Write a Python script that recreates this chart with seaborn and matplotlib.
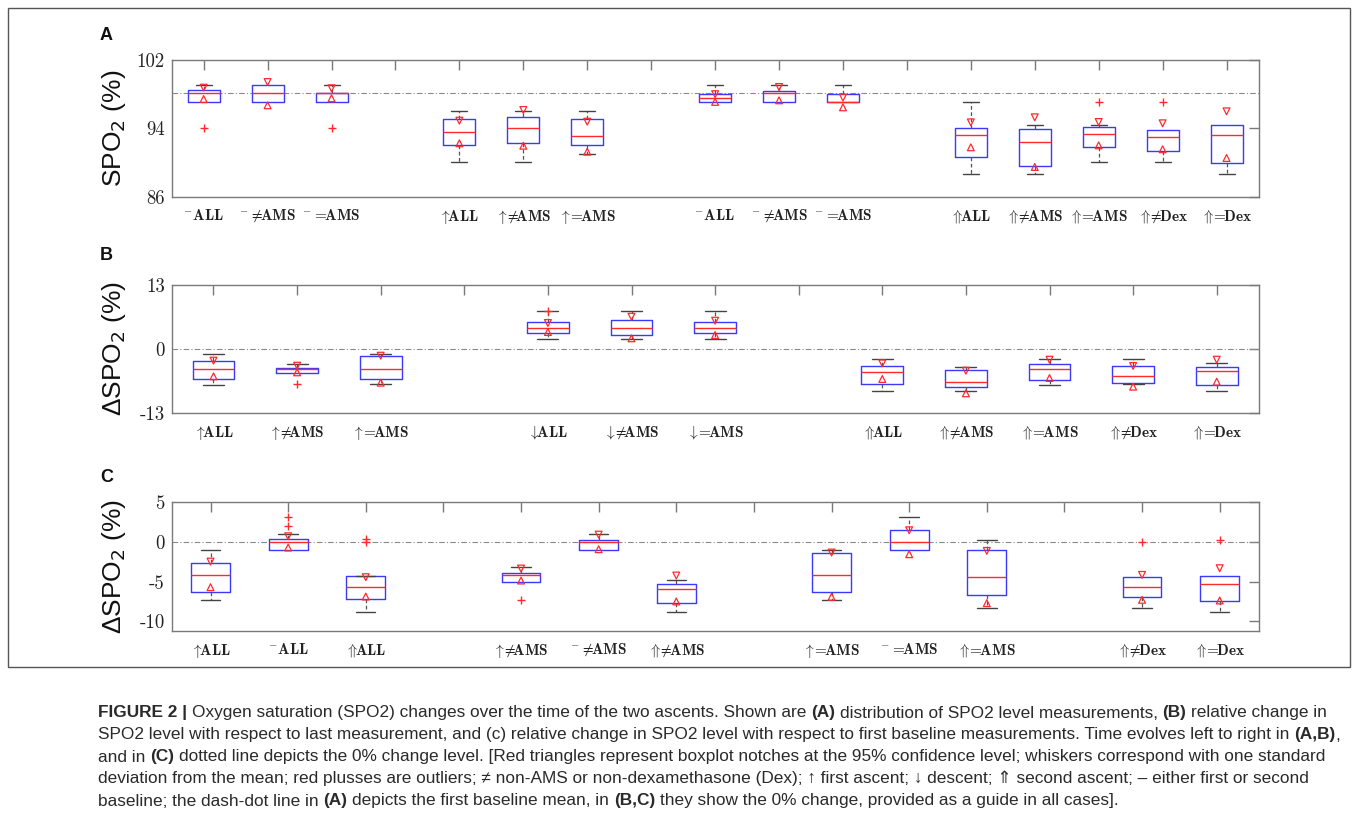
import matplotlib
matplotlib.use("Agg")
import matplotlib.pyplot as plt
import seaborn as sns
import pandas as pd
from matplotlib.patches import Rectangle

sns.set_style("white")
plt.rcParams["mathtext.fontset"] = "cm"
plt.rcParams["font.family"] = ["Liberation Sans", "DejaVu Sans"]

# ---------------- data: panel A (SPO2 %) ----------------
A_labels = ["—ALL", "—≠AMS", "—=AMS", "", "↑ALL", "↑≠AMS", "↑=AMS", "",
            "—ALL", "—≠AMS", "—=AMS", "", "⇑ALL", "⇑≠AMS", "⇑=AMS", "⇑≠Dex", "⇑=Dex"]
A_pos = [1, 2, 3, 5, 6, 7, 9, 10, 11, 13, 14, 15, 16, 17]
A_whishi = [99.04, 99.04, 99.04, 96.07, 96.07, 96.07, 99.04, 99.04, 99.04, 97.08, 94.35, 94.35, 93.77, 94.35]
A_q3 = [98.53, 99.04, 98.10, 95.06, 95.29, 95.06, 98.06, 98.33, 98.06, 94.08, 93.89, 94.20, 93.77, 94.35]
A_med = [98.10, 98.10, 98.10, 93.57, 94.00, 93.07, 97.55, 98.14, 97.06, 93.18, 92.37, 93.34, 93.03, 93.18]
A_q1 = [97.08, 97.08, 97.08, 92.05, 92.25, 92.05, 97.08, 97.08, 97.04, 90.69, 89.63, 91.78, 91.39, 89.98]
A_whislo = [97.08, 97.08, 97.08, 90.02, 90.02, 91.04, 97.08, 97.08, 97.04, 88.66, 88.66, 90.02, 90.02, 88.66]
A_notch_hi = [98.76, 99.42, 98.69, 94.90, 96.15, 94.78, 98.00, 98.84, 97.60, 94.70, 95.29, 94.74, 94.59, 95.99]
A_notch_lo = [97.43, 96.70, 97.52, 92.25, 91.97, 91.27, 97.10, 97.28, 96.46, 91.78, 89.48, 92.01, 91.55, 90.53]
A_outliers = [[94.0], [], [94.0], [], [], [], [], [], [], [], [], [97.04], [97.04], []]
A_ref = 98.1
A_yticks = [86, 94, 102]

# ---------------- data: panel B (delta SPO2 vs last) ----------------
B_labels = ["↑ALL", "↑≠AMS", "↑=AMS", "", "↓ALL", "↓≠AMS", "↓=AMS", "",
            "⇑ALL", "⇑≠AMS", "⇑=AMS", "⇑≠Dex", "⇑=Dex"]
B_pos = [1, 2, 3, 5, 6, 7, 9, 10, 11, 12, 13]
B_whishi = [-1.08, -3.05, -1.08, 7.65, 7.79, 7.65, -2.03, -3.72, -1.96, -2.03, -2.78]
B_q3 = [-2.51, -3.79, -1.36, 5.48, 5.95, 5.48, -3.52, -4.27, -2.98, -3.39, -3.72]
B_med = [-4.06, -4.00, -4.06, 4.33, 4.33, 4.33, -4.61, -6.77, -4.13, -5.55, -4.41]
B_q1 = [-6.09, -4.94, -6.09, 3.18, 2.84, 3.18, -7.11, -7.65, -6.30, -6.84, -7.31]
B_whislo = [-7.25, -4.94, -7.18, 2.10, 2.03, 2.03, -8.60, -8.53, -7.25, -7.18, -8.53]
B_notch_hi = [-2.37, -3.39, -1.36, 5.28, 6.56, 5.75, -2.91, -4.41, -2.17, -3.45, -2.17]
B_notch_lo = [-5.55, -4.74, -6.84, 3.45, 2.17, 2.84, -6.09, -9.00, -5.89, -7.65, -6.64]
B_outliers = [[], [-7.18], [], [7.75], [], [], [], [], [], [], []]
B_ref = 0.0
B_yticks = [-13, 0, 13]

# ---------------- data: panel C (delta SPO2 vs first baseline) ----------------
C_labels = ["↑ALL", "—ALL", "⇑ALL", "", "↑≠AMS", "—≠AMS", "⇑≠AMS", "",
            "↑=AMS", "—=AMS", "⇑=AMS", "", "⇑≠Dex", "⇑=Dex"]
C_pos = [1, 2, 3, 5, 6, 7, 9, 10, 11, 13, 14]
C_whishi = [-1.05, 1.01, -4.24, -3.15, 1.01, -4.79, -1.05, 3.19, 0.29, -4.45, -4.24]
C_q3 = [-2.69, 0.42, -4.32, -3.86, 0.21, -5.37, -1.39, 1.51, -1.05, -4.45, -4.24]
C_med = [-4.20, 0.00, -5.67, -4.11, 0.00, -5.92, -4.16, 0.00, -4.41, -5.71, -5.33]
C_q1 = [-6.26, -1.05, -7.14, -5.04, -1.05, -7.72, -6.26, -1.05, -6.68, -6.93, -7.39]
C_whislo = [-7.30, -1.05, -8.78, -5.04, -1.05, -8.78, -7.30, -1.05, -8.31, -8.31, -8.78]
C_notch_hi = [-2.48, 0.71, -4.45, -3.36, 0.92, -4.24, -1.34, 1.47, -1.13, -4.16, -3.32]
C_notch_lo = [-5.71, -0.71, -6.89, -4.87, -0.92, -7.51, -6.93, -1.55, -7.72, -7.30, -7.39]
C_outliers = [[], [3.19, 2.01], [0.34, 0.0], [-7.35], [], [], [], [], [], [0.0], [0.29]]
C_ref = 0.0
C_yticks = [-10, -5, 0, 5]

CAPTION = [
    [("FIGURE 2 |", True), (" Oxygen saturation (SPO2) changes over the time of the two ascents. Shown are ", False),
     ("(A)", True), (" distribution of SPO2 level measurements, ", False), ("(B)", True), (" relative change in", False)],
    [("SPO2 level with respect to last measurement, and (c) relative change in SPO2 level with respect to first baseline measurements. Time evolves left to right in ", False),
     ("(A,B)", True), (",", False)],
    [("and in ", False), ("(C)", True),
     (" dotted line depicts the 0% change level. [Red triangles represent boxplot notches at the 95% confidence level; whiskers correspond with one standard", False)],
    [("deviation from the mean; red plusses are outliers; ≠ non-AMS or non-dexamethasone (Dex); ↑ first ascent; ↓ descent; ⇑ second ascent; – either first or second", False)],
    [("baseline; the dash-dot line in ", False), ("(A)", True), (" depicts the first baseline mean, in ", False),
     ("(B,C)", True), (" they show the 0% change, provided as a guide in all cases].", False)],
]

# ---------------- styling ----------------
W, H = 1357, 827
BLUE = "#3a3aff"
RED = "#ff2a2a"
SPINE = "#7a7a7a"

SYM = {"—": r"{}^{-}", "↑": r"\uparrow\!\!", "↓": r"\downarrow\!\!", "⇑": r"\Uparrow\!\!",
       "≠": r"\neq\!\!", "=": r"=\!\!"}


def to_math(lbl):
    if not lbl:
        return ""
    out, word = "", ""
    for ch in lbl:
        if ch in SYM:
            if word:
                out += r"\mathbf{%s}" % word
                word = ""
            out += SYM[ch]
        else:
            word += ch
    if word:
        out += r"\mathbf{%s}" % word
    return "$" + out + "$"


fig = plt.figure(figsize=(W / 100, H / 100), dpi=100)
fig.patch.set_facecolor("white")

left = 171.7 / W
width = (1258.5 - 171.7) / W


def add_ax(top_px, bot_px):
    return fig.add_axes([left, 1 - bot_px / H, width, (bot_px - top_px) / H])


def panel(ax, labels, pos, whishi, q3, med, q1, whislo, nhi, nlo, outl, ref, ylim, yticks, ylabel):
    stats = [dict(q1=a, med=b, q3=c, whislo=d, whishi=e, fliers=[])
             for a, b, c, d, e in zip(q1, med, q3, whislo, whishi)]
    ax.axhline(ref, color="#8a8a8a", lw=0.8, ls=(0, (5, 2, 1, 2)), zorder=1)
    art = ax.bxp(stats, positions=pos, widths=0.5, capwidths=0.25, showfliers=False,
                 boxprops=dict(color=BLUE, lw=1.0),
                 medianprops=dict(color=RED, lw=1.0),
                 whiskerprops=dict(color="#555555", lw=0.9, ls=(0, (3, 2))),
                 capprops=dict(color="#444444", lw=1.0))
    for i in range(len(pos)):
        if abs(whislo[i] - q1[i]) < 1e-9:
            art["caps"][2 * i].set_visible(False)
        if abs(whishi[i] - q3[i]) < 1e-9:
            art["caps"][2 * i + 1].set_visible(False)
    dfn = pd.DataFrame({"x": pos, "hi": nhi, "lo": nlo})
    for col, mk in (("hi", "v"), ("lo", "^")):
        sns.scatterplot(data=dfn, x="x", y=col, marker=mk, s=24, ax=ax, legend=False, zorder=4)
        coll = ax.collections[-1]
        coll.set_facecolor("none")
        coll.set_edgecolor(RED)
        coll.set_linewidth(0.9)
    ox = [p for p, o in zip(pos, outl) for _ in o]
    oy = [v for o in outl for v in o]
    if ox:
        dfo = pd.DataFrame({"x": ox, "y": oy})
        sns.scatterplot(data=dfo, x="x", y="y", marker="+", s=30, color=RED, linewidth=1.0,
                        ax=ax, legend=False, zorder=4)
    n = len(labels)
    ax.set_xlim(0.5, n + 0.5)
    ax.set_ylim(*ylim)
    ax.set_xticks(range(1, n + 1))
    ax.set_xticklabels([to_math(l) for l in labels], fontsize=11, color="#222222")
    ax.set_yticks(yticks)
    ax.set_yticklabels([str(t) for t in yticks], fontfamily="cmr10", fontsize=13.5, color="#222222")
    ax.tick_params(direction="in", top=True, right=True, length=7, width=1, color=SPINE)
    ax.tick_params(axis="x", pad=8)
    ax.tick_params(axis="y", pad=5)
    for s in ax.spines.values():
        s.set_color(SPINE)
        s.set_linewidth(1.0)
        s.set_visible(True)
    ax.set_xlabel("")
    ax.set_ylabel(ylabel, fontsize=19, color="#111111", math_fontfamily="dejavusans")
    ax.yaxis.set_label_coords(-0.040, 0.5)


axA = add_ax(60, 196.7)
panel(axA, A_labels, A_pos, A_whishi, A_q3, A_med, A_q1, A_whislo, A_notch_hi, A_notch_lo,
      A_outliers, A_ref, (86, 102), A_yticks, "SPO$_2$ (%)")
axB = add_ax(285, 413)
panel(axB, B_labels, B_pos, B_whishi, B_q3, B_med, B_q1, B_whislo, B_notch_hi, B_notch_lo,
      B_outliers, B_ref, (-13, 13), B_yticks, "ΔSPO$_2$ (%)")
axC = add_ax(502.3, 630.7)
panel(axC, C_labels, C_pos, C_whishi, C_q3, C_med, C_q1, C_whislo, C_notch_hi, C_notch_lo,
      C_outliers, C_ref, (-11.2, 5), C_yticks, "ΔSPO$_2$ (%)")

for letter, ypx in (("A", 36), ("B", 256), ("C", 477)):
    fig.text(100 / W, 1 - ypx / H, letter, fontsize=13, weight="bold", va="center", ha="left",
             color="#111111")

fig.add_artist(Rectangle((8 / W, 1 - 667 / H), (1350 - 8) / W, (667 - 8) / H,
                         transform=fig.transFigure, fill=False, ec="#555555", lw=1.0))

# ---------------- caption ----------------
renderer = fig.canvas.get_renderer()


def ink_w(s, fs, bold):
    t = fig.text(0, 0, s, fontsize=fs, weight="bold" if bold else "normal")
    w = t.get_window_extent(renderer).width
    t.remove()
    return w


def adv(s, fs, bold):
    # advance width of s, measured between two bars to include side bearings
    return ink_w("|" + s + "|", fs, bold) - ink_w("||", fs, bold)


def draw_line(y, segs, fs, x0=98.0, draw=True):
    sp = adv(" ", fs, False)
    x = x0
    for txt, bold in segs:
        core = txt.strip(" ")
        lead = len(txt) - len(txt.lstrip(" "))
        trail = len(txt) - len(txt.rstrip(" "))
        x += lead * sp
        if core:
            if draw:
                fig.text(x / W, 1 - y / H, core, fontsize=fs, weight="bold" if bold else "normal",
                         va="baseline", ha="left", color="#2a2a2a")
            x += adv(core, fs, bold)
        x += trail * sp
    return x


fs0 = 12.0
w0 = draw_line(0, CAPTION[0], fs0, x0=0, draw=False)
fs = fs0 * 1224.0 / w0
for k, segs in enumerate(CAPTION):
    draw_line(717.5 + 22 * k, segs, fs)

fig.savefig("out.png", dpi=100, facecolor="white")
